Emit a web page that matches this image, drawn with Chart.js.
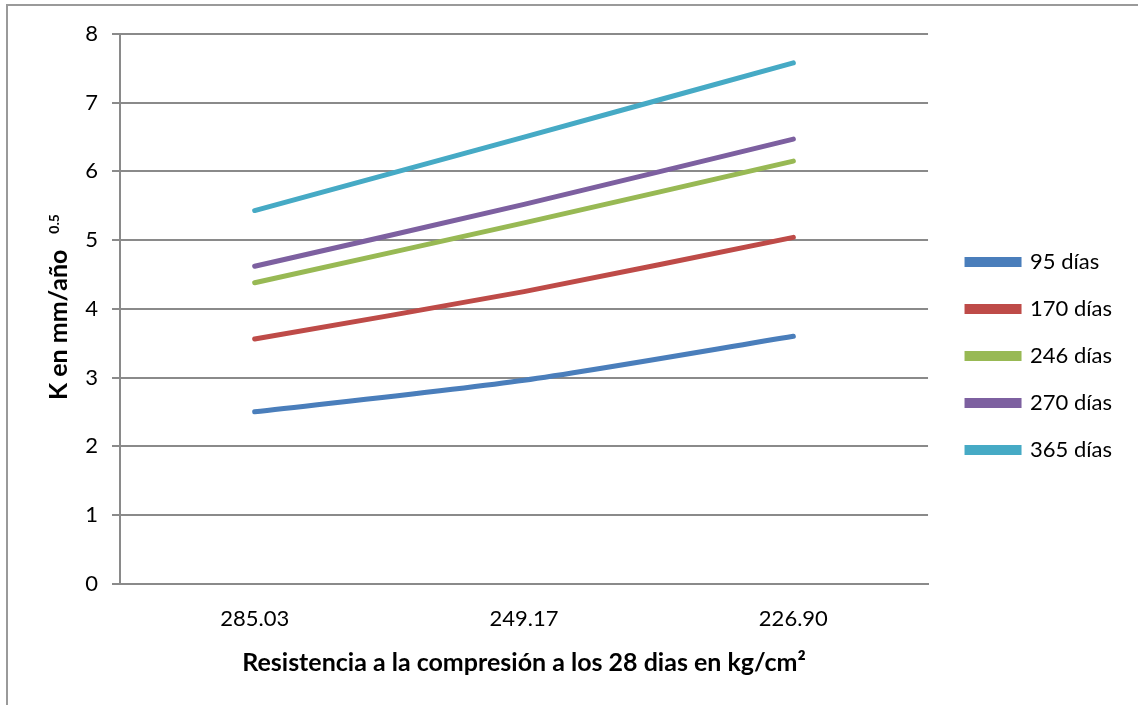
<!DOCTYPE html>
<html>
<head>
<meta charset="utf-8">
<script src="https://cdn.jsdelivr.net/npm/chart.js@4"></script>
<style>
    body { margin: 0; background: #fff; }
    #wrap { position: relative; width: 1138px; height: 705px; }
    #frame {
        position: absolute; left: 6px; top: 4px; right: 0; bottom: 0;
        border-left: 2px solid #9a9a9a; border-top: 2px solid #9a9a9a;
        pointer-events: none;
    }
</style>
</head>
<body>
<div id="wrap">
    <canvas id="chart" width="1138" height="705"></canvas>
    <div id="frame"></div>
</div>
<script>
// datos
const categorias = ["285.03", "249.17", "226.90"];
const series = ["95 días", "170 días", "246 días", "270 días", "365 días"];
const k95 = [2.50, 2.96, 3.60];
const k170 = [3.56, 4.25, 5.04];
const k246 = [4.38, 5.25, 6.15];
const k270 = [4.62, 5.52, 6.47];
const k365 = [5.43, 6.50, 7.58];
const ticksY = [0, 1, 2, 3, 4, 5, 6, 7, 8];
const colores = ["#4a7ebb", "#be4b48", "#98b954", "#7d60a0", "#46aac5"];

const fuente = "Lato, 'Liberation Sans', sans-serif";

// titulo del eje y con superindice
const tituloY = {
    id: "tituloY",
    afterDraw(chart) {
        const ctx = chart.ctx;
        ctx.save();
        ctx.translate(67, 400);
        ctx.rotate(-Math.PI / 2);
        ctx.fillStyle = "#000";
        ctx.textBaseline = "alphabetic";
        ctx.textAlign = "left";
        ctx.font = "bold 25px " + fuente;
        const txt = "K en mm/año";
        ctx.fillText(txt, 0, 0);
        const w = ctx.measureText(txt).width;
        ctx.font = "bold 14px " + fuente;
        ctx.fillText("0.5", w + 16, -8);
        ctx.restore();
    }
};

// correr la leyenda un poco a la derecha
const moverLeyenda = {
    id: "moverLeyenda",
    afterLayout(chart) {
        chart.legend.left += 14;
        chart.legend.right += 14;
    }
};

const ctx = document.getElementById("chart").getContext("2d");
new Chart(ctx, {
    type: "line",
    data: {
        labels: categorias,
        datasets: [k95, k170, k246, k270, k365].map((d, i) => ({
            label: series[i],
            data: d,
            borderColor: colores[i],
            backgroundColor: colores[i],
            borderWidth: 5,
            borderCapStyle: "round",
            pointRadius: 0,
            tension: 0.25,
            fill: false,
        })),
    },
    options: {
        responsive: false,
        animation: false,
        layout: {
            padding: { left: 80, top: 34, right: 30, bottom: 27 },
        },
        plugins: {
            legend: {
                position: "right",
                labels: {
                    boxWidth: 52,
                    boxHeight: 5,
                    padding: 25,
                    color: "#000",
                    font: { family: fuente, size: 22 },
                },
            },
            tooltip: { enabled: false },
        },
        scales: {
            x: {
                offset: true,
                grid: { display: false, drawTicks: false },
                border: { color: "#8a8a8a", width: 2 },
                ticks: {
                    color: "#000",
                    padding: 22,
                    font: { family: fuente, size: 22 },
                },
                title: {
                    display: true,
                    text: "Resistencia a la compresión a los 28 dias en kg/cm²",
                    color: "#000",
                    font: { family: fuente, size: 25, weight: "bold" },
                    padding: { top: -6, bottom: 0 },
                },
            },
            y: {
                min: 0,
                max: 8,
                afterBuildTicks: (axis) => {
                    axis.ticks = ticksY.map((v) => ({ value: v }));
                },
                afterFit: (axis) => {
                    axis.width = 40;
                },
                grid: { color: "#8a8a8a", lineWidth: 2, tickLength: 8 },
                border: { color: "#8a8a8a", width: 2 },
                ticks: {
                    color: "#000",
                    padding: 14,
                    font: { family: fuente, size: 22 },
                },
            },
        },
    },
    plugins: [tituloY, moverLeyenda],
});
</script>
</body>
</html>
